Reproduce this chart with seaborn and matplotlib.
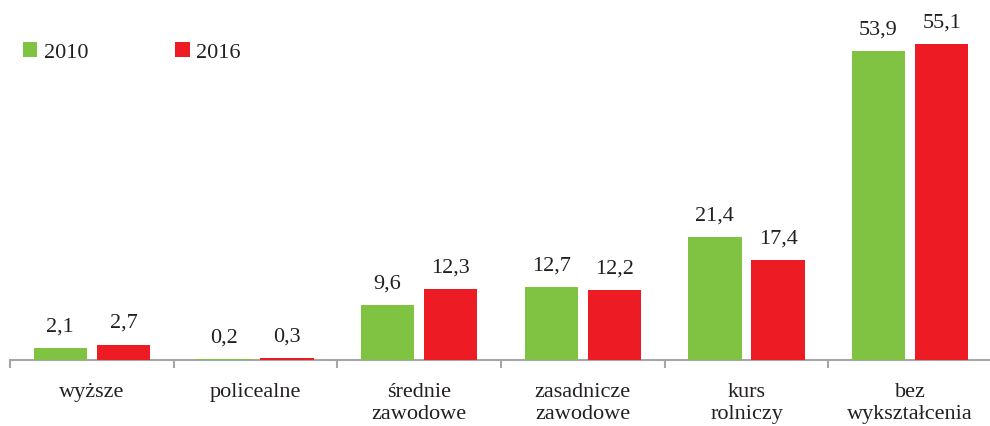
import pandas as pd
import matplotlib.pyplot as plt
import seaborn as sns

# data
categories = ['wyższe', 'policealne', 'średnie\nzawodowe', 'zasadnicze\nzawodowe',
              'kurs\nrolniczy', 'bez\nwykształcenia']
years = ['2010', '2016']
values_2010 = [2.1, 0.2, 9.6, 12.7, 21.4, 53.9]
values_2016 = [2.7, 0.3, 12.3, 12.2, 17.4, 55.1]

df = pd.DataFrame({
    'kategoria': categories * 2,
    'rok': [years[0]] * len(categories) + [years[1]] * len(categories),
    'wartosc': values_2010 + values_2016,
})

sns.set_style('white')
plt.rcParams['font.family'] = ['Liberation Serif', 'DejaVu Serif']
text_color = '#231f20'
axis_color = '#a6a6a6'

fig = plt.figure(figsize=(9.9, 4.27), dpi=100)
ax = fig.add_axes([10 / 990, 66 / 427, 982 / 990, 361 / 427])

sns.barplot(data=df, x='kategoria', y='wartosc', hue='rok',
            palette=['#80c242', '#ed1c24'], width=0.773, gap=0.158,
            saturation=1, linewidth=0, edgecolor='none', ax=ax)

for cont in ax.containers:
    for p in cont:
        p.set_zorder(3)
    ax.bar_label(cont, fmt=lambda v: f'{v:.1f}'.replace('.', ','),
                 padding=9, fontsize=16, color=text_color)

ax.set_xlim(-0.5, 5.5)
ax.set_ylim(0, 62.95)
ax.set_xlabel('')
ax.set_ylabel('')
ax.set_yticks([])

for s in ['top', 'right', 'left']:
    ax.spines[s].set_visible(False)
ax.spines['bottom'].set_color(axis_color)
ax.spines['bottom'].set_linewidth(1.5)

ax.set_xticks(range(len(categories)))
ax.set_xticklabels(categories, fontsize=16, color=text_color, va='top')
ax.set_xticks([i - 0.5 for i in range(len(categories) + 1)], minor=True)
ax.tick_params(axis='x', which='major', bottom=True, length=0, pad=16)
ax.tick_params(axis='x', which='minor', bottom=True, length=6, width=1.5,
               color=axis_color, direction='out')

sns.move_legend(ax, loc='center left', bbox_to_anchor=(23 / 990, 1 - 53 / 427),
                bbox_transform=fig.transFigure, ncol=2, frameon=False,
                title=None, fontsize=16, handlelength=0.65, handleheight=0.65,
                handletextpad=0.3, columnspacing=3.9, borderpad=0,
                borderaxespad=0, labelcolor=text_color)

fig.savefig('out.png', dpi=100)
